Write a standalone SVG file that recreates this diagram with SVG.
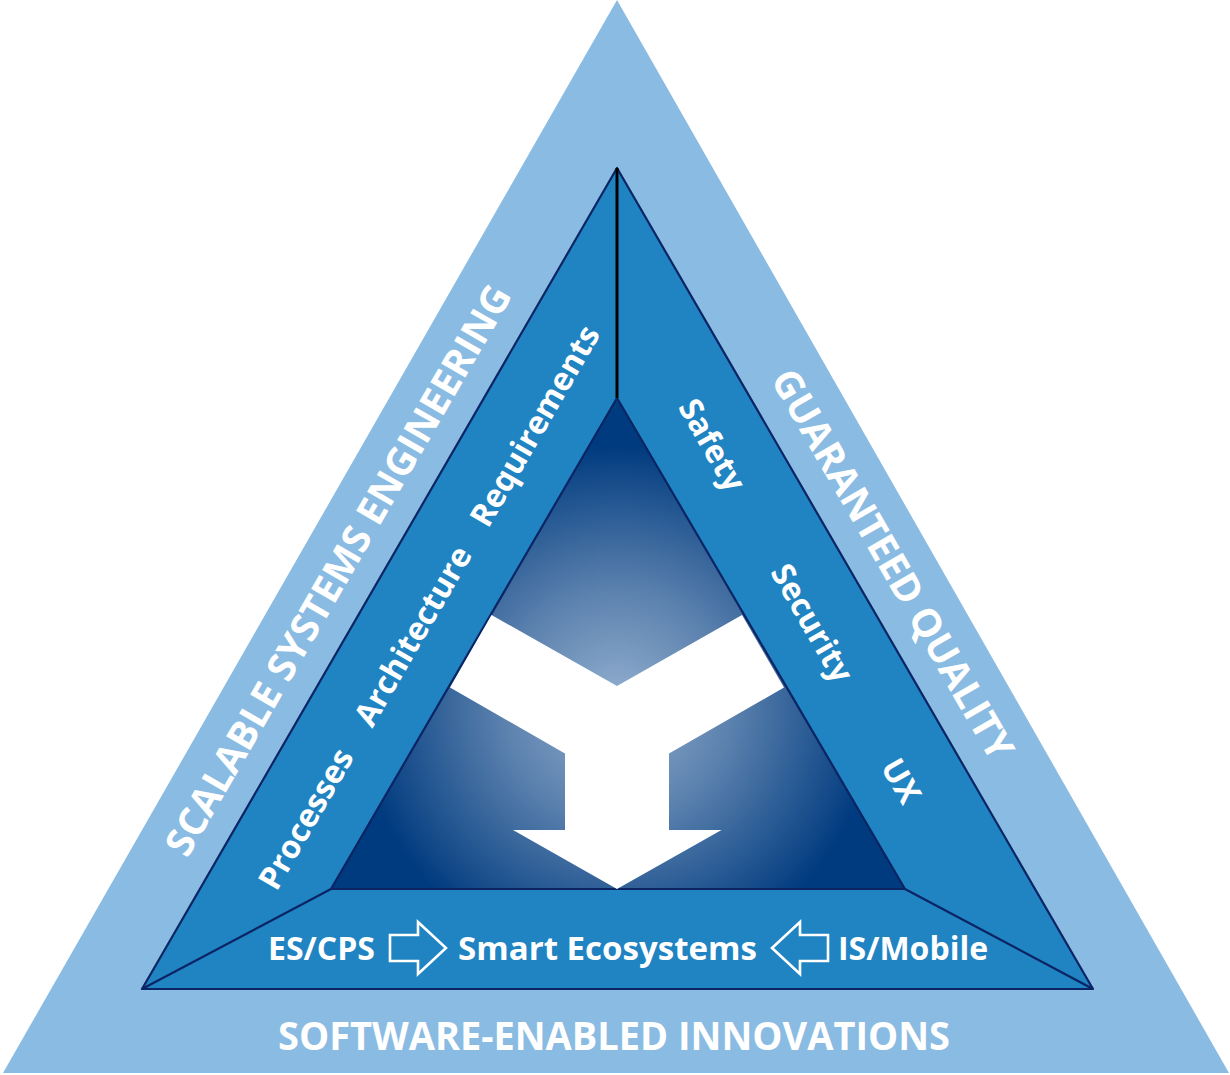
<svg xmlns="http://www.w3.org/2000/svg" width="1230" height="1075" viewBox="0 0 1230 1075">
  <defs>
    <radialGradient id="innerGrad" gradientUnits="userSpaceOnUse" cx="617" cy="705" r="260">
      <stop offset="0" stop-color="#93b0d0"/>
      <stop offset="0.45" stop-color="#5a80ad"/>
      <stop offset="1" stop-color="#003b7f"/>
    </radialGradient>
    <style>
      .lbl { font-family: "Open Sans", "Noto Sans", "Liberation Sans", sans-serif; font-weight: 700; fill: #ffffff; }
      .big { font-size: 39px; }
      .mid { font-size: 32px; }
      .edge { fill: none; stroke: #0b2464; stroke-width: 2.2; stroke-linejoin: round; }
      .hollow { fill: none; stroke: #ffffff; stroke-width: 2.6; stroke-linejoin: miter; }
    </style>
  </defs>

  <g id="outer-triangle">
    <polygon points="617,0 3,1073 1229,1073" fill="#8abbe2"/>
  </g>

  <g id="middle-triangle">
    <polygon points="617,168 142,989 1093,989" class="edge" style="fill:#2083c2"/>
  </g>

  <g id="inner-triangle">
    <polygon points="617,398 331,889 905,889" class="edge" style="fill:url(#innerGrad)"/>
  </g>

  <g id="connectors">
    <line x1="617" y1="168" x2="617" y2="398" stroke="#000000" stroke-width="3"/>
    <line x1="142" y1="989" x2="331" y2="889" class="edge"/>
    <line x1="1093" y1="989" x2="905" y2="889" class="edge"/>
  </g>

  <g id="merge-arrow">
    <polygon points="491.5,615 617,686 742,615 784,687.5 669,753.5 669,830 721.5,830 617,889 513,830 565,830 565,753.5 450,687.5" fill="#ffffff"/>
  </g>

  <g id="label-scalable">
    <text class="lbl big" text-anchor="middle" transform="translate(338,570) rotate(-60)" y="14">SCALABLE SYSTEMS ENGINEERING</text>
  </g>
  <g id="label-guaranteed">
    <text class="lbl big" text-anchor="middle" transform="translate(893,564) rotate(60)" y="14">GUARANTEED QUALITY</text>
  </g>
  <g id="label-software">
    <text class="lbl big" text-anchor="middle" x="614" y="1050" textLength="672" lengthAdjust="spacingAndGlyphs">SOFTWARE-ENABLED INNOVATIONS</text>
  </g>

  <g id="label-processes">
    <text class="lbl mid" text-anchor="middle" transform="translate(306,819) rotate(-60)" y="11">Processes</text>
  </g>
  <g id="label-architecture">
    <text class="lbl mid" text-anchor="middle" transform="translate(413,636) rotate(-60)" y="11">Architecture</text>
  </g>
  <g id="label-requirements">
    <text class="lbl mid" text-anchor="middle" transform="translate(535,426) rotate(-60)" y="11">Requirements</text>
  </g>

  <g id="label-safety">
    <text class="lbl mid" text-anchor="middle" transform="translate(712,445) rotate(60)" y="11">Safety</text>
  </g>
  <g id="label-security">
    <text class="lbl mid" text-anchor="middle" transform="translate(812,623) rotate(60)" y="11">Security</text>
  </g>
  <g id="label-ux">
    <text class="lbl mid" text-anchor="middle" transform="translate(901,781) rotate(60)" y="11">UX</text>
  </g>

  <g id="bottom-row">
    <text class="lbl mid" x="268" y="960">ES/CPS</text>
    <path class="hollow" d="M390,935 H418 V922 L446,948 L418,974 V961 H390 Z"/>
    <text class="lbl mid" x="458" y="960" textLength="299" lengthAdjust="spacingAndGlyphs">Smart Ecosystems</text>
    <path class="hollow" d="M828,935 H800 V922 L772,948 L800,974 V961 H828 Z"/>
    <text class="lbl mid" x="838" y="960">IS/Mobile</text>
  </g>
</svg>
